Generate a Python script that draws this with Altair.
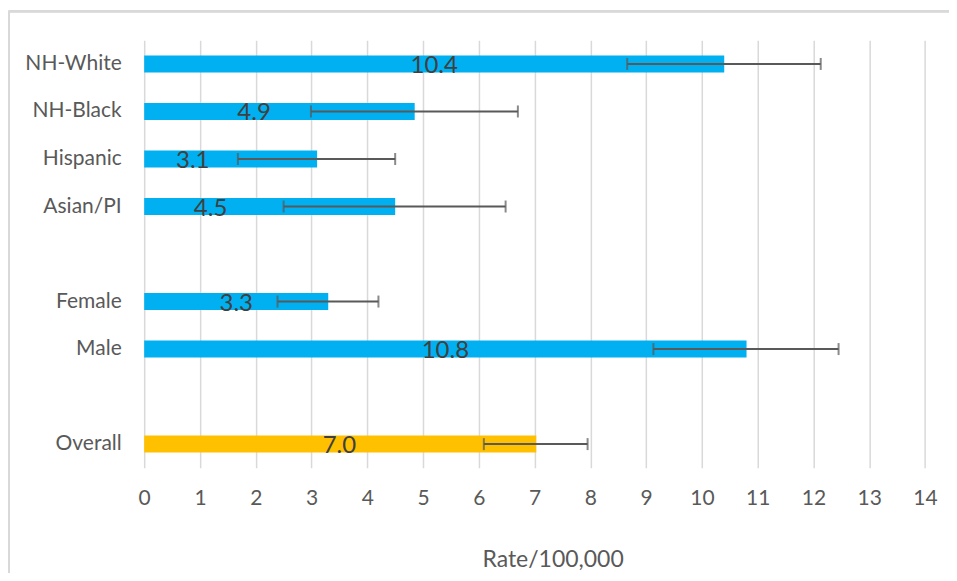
import altair as alt
import pandas as pd

categories = ["NH-White", "NH-Black", "Hispanic", "Asian/PI", " ", "Female", "Male", "  ", "Overall"]
bar_categories = ["NH-White", "NH-Black", "Hispanic", "Asian/PI", "Female", "Male", "Overall"]
rates = [10.4, 4.85, 3.1, 4.5, 3.3, 10.8, 7.03]
labels = ["10.4", "4.9", "3.1", "4.5", "3.3", "10.8", "7.0"]
label_at = [5.2, 1.97, 0.87, 1.19, 1.65, 5.4, 3.5]
ci_low = [8.66, 2.99, 1.68, 2.50, 2.39, 9.13, 6.09]
ci_high = [12.13, 6.70, 4.50, 6.48, 4.20, 12.45, 7.95]
groups = ["sub", "sub", "sub", "sub", "sub", "sub", "overall"]
tick_values = list(range(0, 15))

df = pd.DataFrame({
    "cat": bar_categories, "rate": rates, "label": labels, "label_at": label_at,
    "lo": ci_low, "hi": ci_high, "grp": groups,
})

FONT = "Lato"
W = 781.4
H = 428

y_enc = alt.Y("cat:N", sort=categories, scale=alt.Scale(domain=categories, paddingInner=0, paddingOuter=0),
              axis=alt.Axis(title=None, domain=False, ticks=False, labelPadding=23,
                            labelFontSize=21, labelColor="#595959", labelFont=FONT, grid=False))
x_scale = alt.Scale(domain=[0, 14], nice=False, zero=True)
x_axis = alt.Axis(title="Rate/100,000", values=tick_values, format="d", labelOverlap=False,
                  labelFlush=False, domain=False, ticks=False,
                  grid=True, gridColor="#d9d9d9", gridWidth=1.5,
                  labelFontSize=21, labelColor="#595959", labelFont=FONT, labelPadding=20,
                  titleFontSize=23, titleColor="#595959", titleFont=FONT, titleFontWeight="normal",
                  titlePadding=40, titleX=408.7, titleAlign="center")

base = alt.Chart(df)

bars = base.mark_bar(size=17).encode(
    x=alt.X("rate:Q", scale=x_scale, axis=x_axis),
    y=y_enc,
    color=alt.Color("grp:N", scale=alt.Scale(domain=["sub", "overall"], range=["#00B0F0", "#FFC000"]), legend=None),
)

err = base.mark_rule(color="#595959", strokeWidth=2).encode(
    x=alt.X("lo:Q", scale=x_scale, axis=x_axis), x2="hi:Q", y=y_enc,
)
cap_lo = base.mark_tick(color="#595959", size=12, thickness=2).encode(
    x=alt.X("lo:Q", scale=x_scale, axis=x_axis), y=y_enc,
)
cap_hi = base.mark_tick(color="#595959", size=12, thickness=2).encode(
    x=alt.X("hi:Q", scale=x_scale, axis=x_axis), y=y_enc,
)

text = base.mark_text(
    font=FONT, fontSize=24, color="#404040", baseline="middle", align="center", dy=2
).encode(
    x=alt.X("label_at:Q", scale=x_scale, axis=x_axis), y=y_enc, text="label:N",
)

border_top = alt.Chart(df).mark_rule(color="#d9d9d9", strokeWidth=2).encode(
    x=alt.value(-135.5), x2=alt.value(840), y=alt.value(-29)
)
border_left = alt.Chart(df).mark_rule(color="#d9d9d9", strokeWidth=2).encode(
    x=alt.value(-135.5), y=alt.value(-29), y2=alt.value(560)
)

chart = alt.layer(border_top, border_left, bars, err, cap_lo, cap_hi, text).properties(
    width=W, height=H,
    padding={"left": 136.3, "top": 32, "right": 24, "bottom": 105},
    autosize=alt.AutoSizeParams(type="none"),
    background="white",
).configure_view(stroke=None, strokeWidth=0).configure_axis(
    domain=False, ticks=False
)

chart.save("out.html", embed_options={"renderer": "svg", "actions": False})
